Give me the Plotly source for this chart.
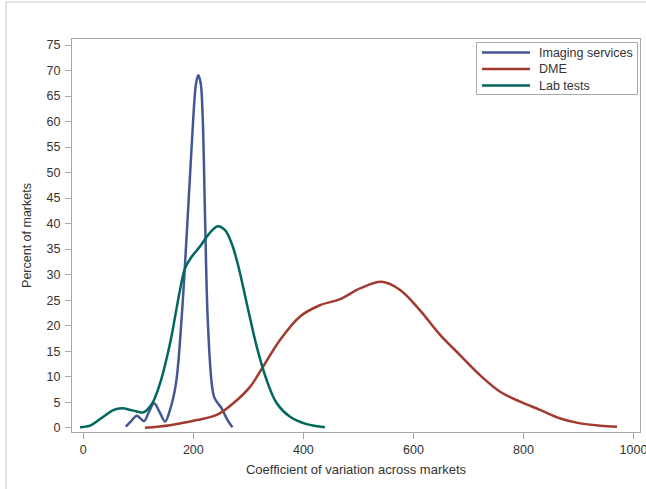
import plotly.graph_objects as go

# Imaging services
img_x = [77.3, 87, 97.3, 104, 110.6, 119, 128.8, 139, 148.8, 157.6, 168.5, 178.9, 189.8, 200, 205, 209.1,
         213.4, 217, 221.3, 226, 233.4, 237.6, 242.5, 251.6, 260.7, 271]
img_y = [0.2, 1.3, 2.35, 1.8, 1.3, 3.0, 4.8, 3.0, 1.2, 3.5, 8.7, 21.75, 41.3, 60.9, 67.5, 69.1,
         67.5, 60.9, 41.3, 21.75, 8.7, 6.1, 5.1, 3.8, 1.8, 0.1]

# DME
dme_x = [112, 157.6, 206, 242.5, 272.7, 303, 327, 357.6, 394, 430, 466.7, 503, 542.5, 575.8, 612, 648.5, 685,
         721, 757.6, 794, 830, 867, 903, 939.5, 970]
dme_y = [0.0, 0.5, 1.5, 2.5, 4.8, 8.0, 12.0, 17.2, 21.8, 24.0, 25.2, 27.3, 28.6, 27.0, 23.0, 18.2, 14.2,
         10.3, 7.05, 5.1, 3.5, 1.8, 0.85, 0.4, 0.2]

# Lab tests
lab_x = [-6, 12.2, 36.4, 54.5, 69.8, 91, 109, 124.3, 139.5, 157.6, 175.8, 184.9, 197, 212, 227, 244.3, 257.6,
         269.7, 281.9, 297, 315.2, 333.4, 351.6, 375.8, 406, 439]
lab_y = [0.1, 0.4, 2.15, 3.45, 3.8, 3.35, 3.0, 4.6, 8.7, 16.5, 27.0, 31.2, 33.5, 35.5, 37.8, 39.5, 38.7,
         36.1, 31.6, 24.4, 15.9, 9.3, 4.8, 2.15, 0.7, 0.1]

series_names = ["Imaging services", "DME", "Lab tests"]
series_colors = ["#445694", "#A23A2E", "#01665E"]

x_ticks = [0, 200, 400, 600, 800, 1000]
y_ticks = list(range(0, 80, 5))

font_family = "Liberation Sans, Arial, sans-serif"
axis_color = "#A8A8A8"
text_color = "#333333"

L, R, T, B = 72, 6, 39, 57
W, H = 646, 489
pw = W - L - R
ph = H - T - B


def px(xp):
    return (xp - L) / pw


def py(yp):
    return 1 - (yp - T) / ph


fig = go.Figure()
for name, xs, ys, col in zip(series_names, [img_x, dme_x, lab_x], [img_y, dme_y, lab_y], series_colors):
    fig.add_trace(go.Scatter(x=xs, y=ys, mode="lines", name=name, showlegend=False,
                             line=dict(color=col, width=2.5, shape="spline", smoothing=1.0)))

# manual legend (SAS style: long line samples, compact rows)
shapes = [
    dict(type="line", xref="paper", yref="paper", x0=px(6), x1=px(W),
         y0=py(2), y1=py(2), line=dict(color="#C8C8C8", width=1)),
    dict(type="line", xref="paper", yref="paper", x0=px(6), x1=px(6),
         y0=py(2), y1=py(H + 2), line=dict(color="#C8C8C8", width=1)),
    dict(type="rect", xref="paper", yref="paper", x0=px(476.5), x1=px(637.5), y0=py(42.5), y1=py(94.5),
         line=dict(color=axis_color, width=1), fillcolor="white", layer="above"),
]
annotations = []
row_y = [52.5, 69, 85.5]
for name, col, ry in zip(series_names, series_colors, row_y):
    shapes.append(dict(type="line", xref="paper", yref="paper", x0=px(482), x1=px(530), y0=py(ry), y1=py(ry),
                       line=dict(color=col, width=2.5), layer="above"))
    annotations.append(dict(text=name, xref="paper", yref="paper", x=px(537), y=py(ry), xanchor="left",
                            yanchor="middle", showarrow=False, font=dict(size=12.5, color=text_color)))

fig.update_layout(
    width=W, height=H,
    margin=dict(l=L, r=R, t=T, b=B, pad=0, autoexpand=False),
    paper_bgcolor="white", plot_bgcolor="white",
    font=dict(family=font_family, size=12.5, color=text_color),
    showlegend=False,
    xaxis=dict(range=[-20.5, 1011.8], tickvals=x_ticks, ticktext=[str(v) for v in x_ticks],
               showgrid=False, zeroline=False, showline=True, mirror=True, linecolor=axis_color, linewidth=1,
               ticks="outside", ticklen=6, tickcolor=axis_color, ticklabeloverflow="allow", automargin=False,
               title=dict(text="Coefficient of variation across markets", font=dict(size=13), standoff=8)),
    yaxis=dict(range=[-0.84, 76.18], tickvals=y_ticks, ticktext=[str(v) for v in y_ticks],
               showgrid=False, zeroline=False, showline=True, mirror=True, linecolor=axis_color, linewidth=1,
               ticks="outside", ticklen=6, tickcolor=axis_color, automargin=False, ticklabelstandoff=2,
               title=dict(text="Percent of markets", font=dict(size=12.5), standoff=12)),
    shapes=shapes,
    annotations=annotations,
)

fig.write_html("out.html")
